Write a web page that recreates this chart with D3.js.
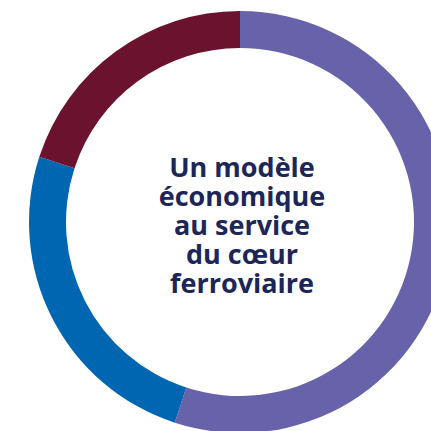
<!DOCTYPE html>
<html>
<head>
<meta charset="utf-8">
<script src="https://cdn.jsdelivr.net/npm/d3@7"></script>
<style>
  html, body { margin: 0; padding: 0; background: #fff; overflow: hidden; }
  svg { display: block; }
  .center-label { font-family: "Open Sans", Lato, sans-serif; font-weight: 700; fill: #1c2657; }
</style>
</head>
<body>
<svg id="chart" width="431" height="431"></svg>
<script>
const segments = ["Part A", "Part B", "Part C"];
const shares   = [55, 25, 20];
const colours  = ["#6762a9", "#0066b2", "#6b122e"];
const titleLines = ["Un modèle", "économique", "au service", "du cœur", "ferroviaire"];

const svg = d3.select("#chart");

const cx = 240, cy = 222;
const outerR = 211, innerR = 174;

const data = segments.map((s, i) => ({ name: s, value: shares[i] }));

const pie = d3.pie()
  .value(d => d.value)
  .sort(null);

const arc = d3.arc()
  .innerRadius(innerR)
  .outerRadius(outerR);

const color = d3.scaleOrdinal()
  .domain(segments)
  .range(colours);

const g = svg.append("g").attr("transform", `translate(${cx},${cy})`);

g.selectAll("path")
  .data(pie(data))
  .join("path")
  .attr("d", arc)
  .attr("fill", d => color(d.data.name));

// centre title
const lineH = 29;
const fs = 27;
g.append("text")
  .attr("class", "center-label")
  .attr("text-anchor", "middle")
  .attr("font-size", fs)
  .selectAll("tspan")
  .data(titleLines)
  .join("tspan")
  .attr("x", 2)
  .attr("y", (d, i) => -45 + i * lineH)
  .text(d => d);
</script>
</body>
</html>
